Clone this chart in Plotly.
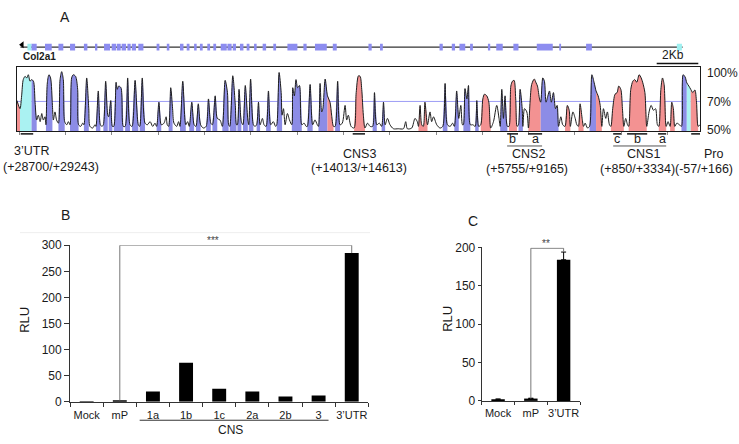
import plotly.graph_objects as go

W, H = 739, 444
def px(x): return x / W
def py(y): return 1 - y / H

FONT = "Liberation Sans, Arial, sans-serif"
TXT = "#1a1a1a"

# ---------------- Panel A data (VISTA conservation plot, kb along alignment) ----------------
cons_kb = [0.00,0.13,0.20,0.27,0.35,0.42,0.49,0.56,0.63,0.71,0.78,0.85,0.92,1.00,1.07,1.14,1.21,
           1.25,1.31,1.38,1.45,1.53,1.57,1.64,1.71,1.79,1.86,1.93,2.00,2.06,2.15,2.22,2.29,2.36,2.43,
           2.53,2.62,2.66,2.75,2.84,2.89,3.01,3.10,3.15,3.27,3.37,3.41,3.51,3.60,3.67,3.73,3.83,3.92,
           3.96,4.05,4.12,4.18,4.28,4.33,4.39,4.49,4.59,4.67,4.78,4.88,4.97,5.10,5.24,5.30,5.41,5.53,
           5.63,5.75,5.86,5.96,6.03,6.13,6.23,6.35,6.44,6.49,6.55,6.64,6.72,6.78,6.90,6.98,7.04,7.16,
           7.29,7.37,7.44,7.55,7.65,7.73,7.83,7.93,8.05,8.17,8.27,8.37,8.44,8.56,8.65,8.77,8.87,8.99,
           9.09,9.14,9.19,9.32,9.43,9.48,9.52,9.59,9.69,9.76,9.86,9.97,10.01,10.09,10.21,
           10.28,10.35,10.43,10.50,10.60,10.67,10.76,10.86,10.96,11.07,11.17,11.22,11.32,11.41,11.45,
           11.51,11.58,11.68,11.77,11.87,11.91,11.98,12.05,12.12,12.20,12.30,12.40,12.49,12.54,12.66,
           12.77,12.87,12.97,13.02,13.09,13.16,13.21,13.31,13.41,13.52,13.59,13.67,13.74,13.85,13.95,
           14.05,14.17,14.24,14.31,14.43,14.56,14.65,14.75,14.82,14.89,14.96,15.03,15.14,15.25,15.36,
           15.44,15.54,15.65,15.75,15.83,15.90,16.00,16.11,16.26,16.47,16.69,16.79,16.86,17.05,17.19,
           17.29,17.34,17.41,17.48,17.55,17.62,17.73,17.84,17.91,17.99,18.13,18.27,18.39,18.49,18.59,
           18.71,18.81,18.89,18.99,19.08,19.17,19.24,19.28,19.35,19.43,19.50,19.58,19.69,19.79,19.86,
           19.94,20.03,20.12,20.19,20.29,20.38,20.46,20.58,20.72,20.82,
           20.87,20.94,21.01,21.08,21.18,21.25,21.33,21.40,21.47,21.54,21.60,21.66,21.73,21.82,21.85,
           21.92,22.02,22.09,22.16,22.23,22.34,22.42,22.48,22.57,22.62,22.71,22.78,22.85,22.93,23.00,
           23.08,23.17,23.26,23.33,23.39,23.49,23.57,23.67,23.77,23.85,23.90,24.01,24.11,24.18,24.25,
           24.32,24.41,24.47,24.54,24.64,24.73,24.83,24.93,25.01,25.10,25.19,25.26,25.33,25.43,25.50,
           25.59,25.65,25.73,25.83,25.92,25.99,26.08,26.15,26.21,26.29,26.37,26.42,26.51,26.60,26.68,
           26.77,26.87,26.96,27.03,27.12,27.20,27.30,27.39,27.49,27.58,27.66,27.72,27.81,27.88,27.95,
           28.04,28.12,28.21,28.28,28.35,28.41,28.50,28.61,28.70,28.77,28.86,28.93,29.02,29.10,29.19,
           29.28,29.35,29.42,29.49]
cons_pct = [70.6,65.1,73.8,84.8,87.0,85.9,88.1,83.7,84.8,83.7,69.5,57.4,60.7,56.3,61.8,57.4,59.6,
            54.2,82.6,88.1,85.9,67.3,57.4,62.9,57.4,55.3,84.8,90.2,84.8,56.3,54.2,56.3,54.2,85.9,88.1,
            87.0,78.2,54.2,53.1,55.3,54.2,85.9,65.1,53.1,52.0,54.2,53.1,77.1,54.2,53.1,54.2,83.7,60.7,
            59.6,70.6,53.1,53.1,83.0,78.2,80.4,79.3,53.1,53.1,85.9,54.2,53.1,84.3,54.2,53.1,85.9,55.3,
            54.2,56.3,53.1,55.3,53.1,69.5,54.2,55.3,59.6,54.2,53.1,79.3,65.1,55.3,53.1,56.3,53.1,83.7,
            54.2,56.3,53.1,69.5,54.2,53.1,68.4,54.2,52.0,53.1,71.7,55.3,54.2,73.8,58.5,57.4,53.1,84.3,
            76.0,54.2,53.1,87.4,67.3,54.2,54.2,78.2,56.3,54.2,80.8,57.4,54.2,85.2,54.2,
            53.1,54.2,69.5,54.2,58.5,54.2,53.1,77.1,54.2,56.3,53.1,54.2,89.6,76.0,60.7,
            65.1,54.2,61.8,57.4,54.2,79.3,73.8,84.8,79.3,80.8,54.2,55.3,53.1,53.1,81.5,
            54.2,57.5,54.2,53.1,82.2,62.9,65.1,85.2,73.8,69.5,60.7,53.1,53.1,83.7,54.2,
            55.3,67.3,57.4,60.7,53.1,52.0,76.0,87.4,87.0,78.2,60.7,52.0,55.3,53.1,53.1,
            76.0,54.2,55.3,53.1,69.5,54.2,58.5,54.2,51.5,51.5,51.5,56.3,51.5,52.0,58.5,
            56.3,53.1,67.3,54.2,53.1,69.5,54.2,62.9,56.3,59.6,54.2,52.0,53.1,82.2,54.2,
            53.1,55.3,53.1,77.1,58.5,67.3,54.2,54.2,78.7,71.7,80.8,54.2,54.2,53.1,70.6,
            53.1,54.2,71.7,74.9,73.8,69.5,52.0,56.3,67.3,58.5,
            53.1,78.2,58.5,73.8,53.1,53.1,80.4,83.7,84.3,71.7,53.1,54.2,78.2,65.1,53.1,
            65.1,62.9,52.0,69.5,81.5,85.2,82.6,80.4,71.7,69.5,85.9,83.7,69.5,73.8,77.1,
            69.5,76.0,65.1,67.3,53.1,59.6,54.2,53.1,67.3,64.0,53.1,62.9,58.5,54.2,53.1,
            68.4,58.5,53.1,55.3,52.0,53.1,88.1,82.6,77.1,73.8,67.3,53.1,65.1,58.5,62.9,
            54.2,53.1,65.1,74.9,76.0,80.4,78.2,65.1,53.1,58.5,54.2,53.1,78.2,83.7,84.8,
            83.0,88.1,85.9,82.6,76.0,53.1,62.9,67.3,64.0,65.1,54.2,53.1,78.2,85.9,81.5,
            53.1,56.3,53.1,69.5,65.1,53.1,55.3,54.2,53.1,88.1,86.5,82.6,80.4,78.2,76.0,
            77.8,69.5,53.1,54.2]

# conserved regions (colour-coded by annotation)
seg_start = [0.00,0.13,0.63,1.25,1.79,2.29,2.89,3.41,3.73,3.96,4.18,4.67,4.97,5.30,6.03,6.55,7.04,
             7.44,7.73,8.17,8.44,8.87,9.19,9.52,9.76,10.01,10.35,10.76,11.22,11.87,12.54,13.02,13.41,
             13.74,14.56,15.36,15.75,17.34,18.39,18.89,19.28,19.79,20.03,20.87,21.25,21.66,22.09,22.62,
             23.67,24.25,24.73,25.01,25.65,26.42,27.72,28.21,28.70,28.93,29.10]
seg_end = [0.13,0.63,0.85,1.53,2.06,2.66,3.10,3.60,3.92,4.12,4.59,4.88,5.24,5.53,6.23,6.72,7.29,
           7.65,7.93,8.37,8.65,9.14,9.48,9.69,9.97,10.21,10.50,10.96,11.45,12.30,12.77,13.41,13.67,
           13.95,15.03,15.54,15.90,17.73,18.59,19.08,19.58,19.94,20.46,21.18,21.60,21.85,22.62,23.39,
           23.90,24.47,25.01,25.26,26.21,27.20,28.04,28.41,28.93,29.10,29.42]
seg_type = ["cns","utr"] + ["exon"] * 30 + ["cns","exon","cns","exon","exon","cns","exon","exon",
            "exon","exon","cns","exon","cns","exon","cns","exon","cns","cns","exon","cns","cns",
            "cns","cns","cns","exon","utr","cns"]

# gene model (Col2a1)
exon_start = [0.62,1.21,1.79,2.29,2.89,3.37,3.76,4.09,4.31,4.52,4.77,4.96,5.24,6.03,6.47,7.04,7.33,
              7.65,7.90,8.22,8.48,8.80,9.09,9.32,9.63,9.92,10.24,10.61,11.07,11.68,12.37,12.87,13.64,
              15.18,15.68,18.25,18.78,19.11,19.57,20.34,20.70,21.44,22.45,23.42,24.58]
exon_end = [0.85,1.50,2.00,2.51,3.04,3.47,4.02,4.28,4.48,4.71,4.91,5.14,5.46,6.15,6.58,7.19,7.45,
            7.76,8.02,8.34,8.60,9.06,9.27,9.46,9.78,10.04,10.35,10.76,11.19,12.11,12.51,13.38,13.81,
            15.32,15.80,18.39,18.92,19.36,19.69,20.44,20.98,21.66,23.14,23.50,24.83]
utr_start = [0.45, 28.50]
utr_end = [0.62, 28.72]
gene_start_kb, gene_end_kb = 0.15, 28.75

# tested elements below the plot
element_names = ["3’UTR", "CNS3", "b", "a", "c", "b", "a", "Pro"]
element_start = [0.16, 14.50, 21.17, 22.08, 25.75, 26.35, 27.69, 29.12]
element_end = [0.70, 15.03, 21.64, 22.68, 26.09, 27.22, 28.04, 29.51]

# ---------------- Panel B / C data ----------------
b_cats = ["Mock", "mP", "1a", "1b", "1c", "2a", "2b", "3", "3’UTR"]
b_vals = [1, 3, 20, 75, 25, 20, 10, 12, 285]
c_cats = ["Mock", "mP", "3’UTR"]
c_vals = [2, 3, 184]
c_err = [0.5, 0.5, 10]

BLUE, RED, CYAN = "#8c8ce6", "#f39292", "#aaf2f2"
fill_col = {"exon": BLUE, "cns": RED, "utr": CYAN}
SMOOTH = dict(shape="spline", smoothing=0.8)

fig = go.Figure()

# coloured conserved regions
for s, e, t in zip(seg_start, seg_end, seg_type):
    xs = [k for k in cons_kb if s - 1e-6 <= k <= e + 1e-6]
    ys = [p for k, p in zip(cons_kb, cons_pct) if s - 1e-6 <= k <= e + 1e-6]
    fig.add_trace(go.Scatter(x=xs, y=ys, mode="lines", line=dict(width=0, **SMOOTH), fill="tozeroy",
                             fillcolor=fill_col[t], xaxis="x", yaxis="y", hoverinfo="skip",
                             showlegend=False))
# conservation curve
fig.add_trace(go.Scatter(x=cons_kb, y=cons_pct, mode="lines", line=dict(color="#1e1e1e", width=1, **SMOOTH),
                         xaxis="x", yaxis="y", hoverinfo="skip", showlegend=False))

# gene model
fig.add_trace(go.Scatter(x=[gene_start_kb, gene_end_kb], y=[0, 0], mode="lines",
                         line=dict(color="#333", width=1.2), xaxis="x", yaxis="y2",
                         hoverinfo="skip", showlegend=False))
fig.add_trace(go.Scatter(x=[0.22], y=[0.25], mode="markers", cliponaxis=False,
                         marker=dict(symbol="triangle-left", size=6, color="black"),
                         xaxis="x", yaxis="y2", hoverinfo="skip", showlegend=False))
shapes = []
# 70% reference line (behind the fills)
shapes.append(dict(type="line", xref="x", yref="y", x0=0, x1=29.5, y0=70, y1=70, layer="below",
                   line=dict(color="#9d9df5", width=1)))
for s, e in zip(exon_start, exon_end):
    shapes.append(dict(type="rect", xref="x", yref="y2", x0=s, x1=e, y0=-0.35, y1=0.35,
                       fillcolor="#8d8df0", line=dict(width=0)))
for s, e in zip(utr_start, utr_end):
    shapes.append(dict(type="rect", xref="x", yref="y2", x0=s, x1=e, y0=-0.35, y1=0.35,
                       fillcolor="#9ff0f0", line=dict(width=0)))

# element bars under the plot
for s, e in zip(element_start, element_end):
    shapes.append(dict(type="line", xref="x", yref="paper", x0=s, x1=e, y0=py(131), y1=py(131),
                       line=dict(color="#222", width=1.6)))
# grouping lines for CNS2 and CNS1
for s, e in [(element_start[2], element_end[3]), (element_start[4], element_end[6])]:
    shapes.append(dict(type="line", xref="x", yref="paper", x0=s, x1=e, y0=py(143.5), y1=py(143.5),
                       line=dict(color="#555", width=1)))
# scale bar 2 kb
shapes.append(dict(type="line", xref="paper", yref="paper", x0=px(656.7), x1=px(698.3),
                   y0=py(58.3), y1=py(58.3), line=dict(color="#111", width=1.5)))
# faint line above panel B
shapes.append(dict(type="line", xref="paper", yref="paper", x0=px(20), x1=px(370),
                   y0=py(233), y1=py(233), line=dict(color="#eeeeee", width=1)))

annotations = []
def txt(x, y, s, size=12.5, xanchor="center", **kw):
    annotations.append(dict(x=px(x), y=py(y), xref="paper", yref="paper", text=s, showarrow=False,
                            xanchor=xanchor, yanchor="middle", font=dict(family=FONT, size=size, color=TXT), **kw))

txt(65, 10, "A", 14)
txt(21, 51, "<b>Col2a1</b>", 10, xanchor="left")
txt(672.5, 49.5, "2Kb", 12)
txt(705, 68, "100%", 12, xanchor="left")
txt(705, 98, "70%", 12, xanchor="left")
txt(705, 127, "50%", 12, xanchor="left")

# element sub letters
for name, s, e in zip(element_names[2:7], element_start[2:7], element_end[2:7]):
    annotations.append(dict(x=(s + e) / 2, y=py(136.5), xref="x", yref="paper", text=name,
                            showarrow=False, yanchor="middle",
                            font=dict(family=FONT, size=12.5, color=TXT)))
txt(31.5, 148.5, "3’UTR")
txt(50.5, 165, "(+28700/+29243)")
txt(359, 151.5, "CNS3")
txt(359, 166, "(+14013/+14613)")
txt(528, 152, "CNS2")
txt(527, 167, "(+5755/+9165)")
txt(643, 152, "CNS1")
txt(637.5, 167, "(+850/+3334)")
txt(714, 152, "Pro")
txt(704, 167, "(-57/+166)")

# ---------------- Panel B ----------------
fig.add_trace(go.Bar(x=b_cats, y=b_vals, xaxis="x2", yaxis="y3", marker=dict(color="black", line=dict(width=0)),
                     width=0.42, showlegend=False, hoverinfo="skip"))
fig.add_trace(go.Scatter(x=[b_cats[1], b_cats[1], b_cats[-1], b_cats[-1]],
                         y=[b_vals[1], 300, 300, b_vals[-1]], mode="lines", cliponaxis=False,
                         line=dict(color="#777", width=1), xaxis="x2", yaxis="y3",
                         showlegend=False, hoverinfo="skip"))
annotations.append(dict(x=3.8, y=300, xref="x2", yref="y3", text="***", showarrow=False,
                        yanchor="bottom", yshift=-3, font=dict(family=FONT, size=10, color="#444")))
shapes.append(dict(type="line", xref="x2", yref="paper", x0=1.6, x1=7.3, y0=py(426.7), y1=py(426.7),
                   line=dict(color="#333", width=1)))
annotations.append(dict(x=4.33, y=py(437), xref="x2", yref="paper", text="CNS", showarrow=False,
                        yanchor="middle", font=dict(family=FONT, size=12, color=TXT)))
txt(65, 215, "B", 14)
txt(25, 323, "RLU", 13, textangle=-90)

# ---------------- Panel C ----------------
fig.add_trace(go.Bar(x=c_cats, y=c_vals, xaxis="x3", yaxis="y4", marker=dict(color="black", line=dict(width=0)),
                     width=0.41, showlegend=False, hoverinfo="skip",
                     error_y=dict(type="data", array=c_err, arrayminus=[0, 0, 0], symmetric=False,
                                  color="black", thickness=1, width=2.5)))
fig.add_trace(go.Scatter(x=[c_cats[1], c_cats[1], c_cats[-1], c_cats[-1]],
                         y=[c_vals[1], 199, 199, c_vals[-1] + c_err[-1]], mode="lines", cliponaxis=False,
                         line=dict(color="#777", width=1), xaxis="x3", yaxis="y4",
                         showlegend=False, hoverinfo="skip"))
annotations.append(dict(x=1.46, y=199, xref="x3", yref="y4", text="**", showarrow=False,
                        yanchor="bottom", yshift=-3, font=dict(family=FONT, size=10, color="#444")))
txt(472.7, 220.7, "C", 14)
txt(447.3, 321.7, "RLU", 13, textangle=-90)

axis_common = dict(showgrid=False, zeroline=False, showline=True, linecolor="#333", linewidth=1,
                   tickfont=dict(family=FONT, size=12, color=TXT), ticks="outside", tickcolor="#333")
cat_font = dict(family=FONT, size=11, color=TXT)

fig.update_layout(
    width=W, height=H, margin=dict(l=0, r=0, t=0, b=0), autosize=False,
    paper_bgcolor="white", plot_bgcolor="rgba(0,0,0,0)", showlegend=False,
    font=dict(family=FONT, color=TXT),
    xaxis=dict(domain=[px(17), px(700)], range=[0, 29.5], anchor="y", showgrid=False, zeroline=False,
               showline=True, mirror=True, linecolor="#1a1a1a", linewidth=1.3, ticks="outside",
               ticklen=3, tickcolor="#888", tick0=2.1, dtick=2, showticklabels=False),
    yaxis=dict(domain=[py(128), py(62)], range=[50, 93.3], anchor="x", showgrid=False, zeroline=False,
               showline=True, mirror=True, linecolor="#1a1a1a", linewidth=1.3, ticks="",
               showticklabels=False),
    yaxis2=dict(domain=[py(51.5), py(31.5)], range=[-1, 1], anchor="x", visible=False),
    xaxis2=dict(domain=[px(70.1), px(368.3)], anchor="y3", type="category", categoryorder="array",
                categoryarray=b_cats, tickson="boundaries", ticklen=4, tickangle=0, ticklabelstandoff=3,
                **{**axis_common, "tickfont": cat_font}),
    yaxis3=dict(domain=[py(407.7), py(246)], anchor="x2", range=[0, 300], dtick=50, ticklen=5, **axis_common),
    xaxis3=dict(domain=[px(481.7), px(580)], anchor="y4", type="category", categoryorder="array",
                categoryarray=c_cats, tickson="boundaries", ticklen=3, tickangle=0, ticklabelstandoff=2,
                **{**axis_common, "tickfont": cat_font}),
    yaxis4=dict(domain=[py(406.7), py(248.3)], anchor="x3", range=[0, 200], dtick=50, ticklen=3, **axis_common),
    shapes=shapes, annotations=annotations,
)

fig.write_html("out.html", config={"displayModeBar": False},
               post_script="document.body.style.margin='0';document.body.style.overflow='hidden';")
